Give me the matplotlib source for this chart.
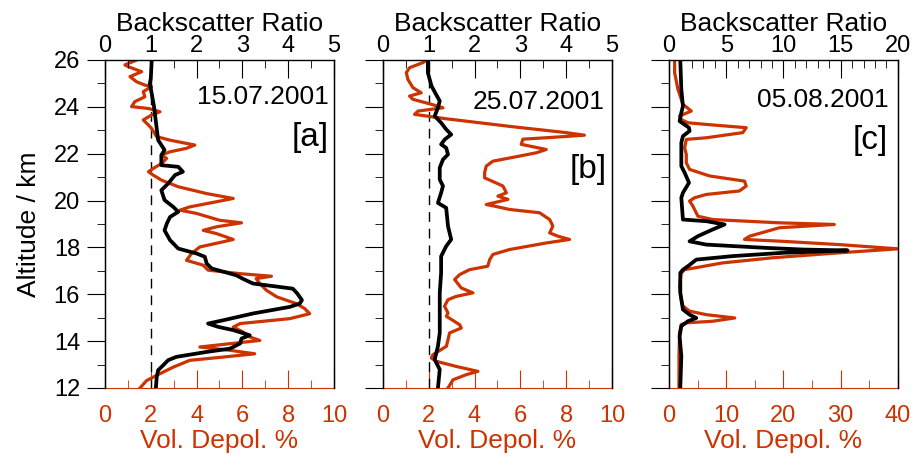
import matplotlib
matplotlib.use("Agg")
import matplotlib.pyplot as plt
from matplotlib.ticker import MultipleLocator
from matplotlib.transforms import blended_transform_factory

plt.rcParams["font.family"] = ["Liberation Sans", "DejaVu Sans"]

ORANGE = "#CC3300"

# ---- panel [a] 15.07.2001 ----
alt_a_bsr = [26.0, 25.22, 25.0, 24.01, 22.58, 22.16, 21.94, 21.51, 21.44, 21.23, 21.09, 20.73,
             20.44, 20.02, 19.73, 19.52, 19.30, 19.02, 18.73, 18.31, 17.95, 17.74, 17.60, 17.31,
             17.10, 16.81, 16.67, 16.46, 16.24, 16.03, 15.75, 15.60, 15.46, 15.18, 14.89, 14.75,
             14.61, 14.47, 14.25, 14.11, 13.90, 13.68, 13.54, 13.33, 13.19, 12.97, 12.76, 12.48, 12.0]
bsr_a = [1.02, 1.0, 0.98, 1.07, 1.16, 1.3, 1.23, 1.23, 1.6, 1.7, 1.53, 1.38,
         1.23, 1.3, 1.49, 1.6, 1.42, 1.35, 1.3, 1.42, 1.6, 2.0, 2.18, 2.22,
         2.33, 2.87, 3.0, 3.23, 4.1, 4.2, 4.3, 4.25, 4.03, 3.23, 2.58, 2.25,
         2.47, 2.8, 3.16, 2.98, 2.95, 2.73, 2.22, 1.56, 1.38, 1.27, 1.16, 1.13, 1.11]
alt_a_dep = [26.0, 25.79, 25.72, 25.50, 25.29, 25.07, 24.93, 24.86, 24.65, 24.43,
             24.22, 24.01, 23.93, 23.79, 23.65, 23.44, 23.22, 23.08, 22.73, 22.58,
             22.37, 22.23, 22.08, 21.94, 21.80, 21.58, 21.37, 21.23, 21.09, 20.87,
             20.59, 20.30, 20.09, 19.95, 19.73, 19.59, 19.45, 19.16, 19.05, 18.88,
             18.73, 18.59, 18.34, 18.24, 18.02, 17.74, 17.45, 17.24, 17.03, 16.88,
             16.77, 16.67, 16.46, 16.17, 15.89, 15.60, 15.39, 15.17, 14.96, 14.75,
             14.60, 14.39, 14.18, 14.03, 13.89, 13.75, 13.61, 13.46, 13.32, 13.18,
             12.89, 12.61, 12.32, 12.0]
dep_a = [1.38, 0.87, 1.0, 1.6, 1.09, 1.38, 1.74, 2.03, 1.67, 1.74,
         1.3, 1.16, 1.9, 2.4, 2.03, 1.67, 1.9, 2.03, 2.25, 2.83,
         3.92, 3.56, 2.83, 2.47, 2.69, 2.47, 2.1, 1.9, 2.1, 2.47,
         3.2, 4.43, 5.6, 4.87, 3.7, 3.27, 4.0, 5.0, 5.96, 4.87,
         4.29, 4.87, 5.6, 5.16, 4.14, 3.78, 3.56, 4.29, 4.5, 5.9,
         7.27, 6.6, 6.76, 7.05, 7.5, 8.36, 8.72, 8.94, 8.07, 5.9,
         5.6, 6.03, 6.32, 6.76, 5.45, 4.14, 5.45, 6.54, 5.16, 3.7,
         2.98, 2.4, 1.82, 1.53]

# ---- panel [b] 25.07.2001 ----
alt_b_bsr = [26.0, 25.46, 24.89, 24.53, 24.25, 23.96, 23.61, 23.32, 23.04, 22.82,
             22.61, 22.40, 22.25, 21.97, 21.75, 21.40, 20.90, 20.62, 20.33, 19.90,
             19.69, 18.91, 18.34, 18.05, 17.62, 16.91, 16.06, 15.21, 14.35, 13.78,
             13.21, 12.79, 12.0]
bsr_b = [0.98, 0.98, 1.06, 1.16, 1.24, 1.2, 1.13, 1.27, 1.38, 1.49,
         1.35, 1.27, 1.38, 1.42, 1.31, 1.24, 1.24, 1.31, 1.27, 1.2,
         1.38, 1.42, 1.49, 1.38, 1.27, 1.27, 1.24, 1.24, 1.24, 1.2,
         1.13, 1.24, 1.2]
alt_b_dep = [26.0, 25.89, 25.67, 25.46, 25.17, 24.82, 24.60, 24.46, 24.32, 24.11,
             23.96, 23.82, 23.68, 23.49, 23.15, 22.90, 22.79, 22.69, 22.62, 22.40,
             22.18, 22.04, 21.90, 21.68, 21.47, 21.19, 20.97, 20.62, 20.33, 20.19,
             20.05, 19.83, 19.76, 19.62, 19.48, 19.19, 18.91, 18.62, 18.48, 18.34,
             18.19, 17.91, 17.70, 17.48, 17.20, 17.05, 16.84, 16.63, 16.27, 16.06,
             15.91, 15.77, 15.49, 15.20, 15.06, 14.70, 14.56, 14.35, 14.06, 13.78,
             13.42, 13.28, 13.14, 12.92, 12.71, 12.57, 12.35, 12.0]
dep_b = [1.9, 1.75, 1.16, 1.02, 1.09, 1.31, 1.67, 1.16, 1.31, 2.11,
         2.62, 1.53, 1.38, 2.77, 5.68, 8.0, 8.8, 7.28, 6.11, 6.04,
         7.13, 6.7, 5.97, 4.8, 4.51, 4.44, 4.44, 5.24, 5.39, 5.02,
         5.46, 4.51, 4.88, 5.53, 6.84, 7.28, 7.42, 7.28, 7.64, 8.15,
         7.13, 5.53, 4.8, 4.66, 4.58, 3.78, 3.35, 3.13, 3.42, 3.93,
         3.2, 2.84, 2.69, 2.84, 2.77, 3.35, 3.42, 2.91, 2.84, 2.77,
         2.18, 2.11, 2.33, 3.2, 4.15, 3.64, 3.06, 2.84]

# ---- panel [c] 05.08.2001 ----
alt_c_bsr = [26.0, 24.75, 24.03, 23.75, 23.39, 23.11, 22.97, 22.75, 22.47, 21.47,
             21.19, 20.76, 20.33, 20.12, 19.19, 19.12, 18.98, 18.77, 18.48, 18.26,
             18.12, 17.98, 17.91, 17.87, 17.77, 17.63, 17.48, 17.20, 17.05, 16.91,
             16.06, 15.35, 15.13, 14.99, 14.85, 14.64, 14.21, 13.36, 12.0]
bsr_c = [0.99, 1.08, 1.22, 1.08, 0.93, 1.75, 1.8, 1.22, 1.08, 1.08,
         1.37, 1.75, 1.22, 1.08, 1.22, 3.26, 4.86, 3.84, 2.53, 1.8,
         3.26, 8.5, 11.7, 15.6, 9.96, 5.59, 2.39, 1.66, 1.22, 0.99,
         0.99, 1.22, 1.8, 2.39, 1.66, 1.08, 0.93, 1.08, 0.99]
alt_c_dep = [26.0, 25.46, 24.75, 24.11, 23.82, 23.61, 23.46, 23.32, 23.25, 23.11,
             22.90, 22.68, 22.61, 22.25, 21.97, 21.61, 21.33, 21.05, 20.83, 20.62,
             20.41, 20.26, 20.12, 19.98, 19.76, 19.33, 19.19, 19.05, 18.98, 18.84,
             18.48, 18.34, 18.26, 18.12, 17.94, 17.77, 17.56, 17.34, 17.05, 16.91,
             16.35, 15.78, 15.50, 15.28, 15.13, 14.99, 14.85, 14.78, 14.71, 14.36,
             13.36, 12.0]
dep_c = [0.99, 0.99, 1.57, 2.44, 3.9, 1.86, 2.15, 3.32, 6.5, 13.5,
         12.9, 6.5, 3.03, 2.74, 3.03, 3.03, 3.6, 7.1, 13.2, 13.5,
         12.3, 6.5, 4.48, 3.6, 4.19, 5.06, 7.68, 19.3, 28.9, 19.3,
         14.1, 13.2, 19.9, 29.8, 40.0, 29.8, 18.2, 9.4, 2.74, 2.15,
         1.86, 2.15, 2.44, 3.6, 6.5, 11.5, 7.68, 3.03, 2.15, 1.86,
         1.75, 1.75]

fig = plt.figure(figsize=(9.14, 4.59), dpi=100)


def make_panel(rect, alt_dep, dep, alt_bsr, bsr, dep_lim, dep_ticks, bsr_lim, bsr_ticks,
               date, tag, date_pos, tag_pos, first=False, dashed=True):
    ax = fig.add_axes(rect)
    top = ax.twiny()

    if dashed:
        trans = blended_transform_factory(top.transData, ax.transAxes)
        ax.plot([1, 1], [0, 1], transform=trans, color="k", lw=1.0, ls=(0, (7, 5)))
    ax.plot(dep, alt_dep, color=ORANGE, lw=2.3)
    top.plot(bsr, alt_bsr, color="k", lw=2.7)

    ax.set_xlim(0, dep_lim)
    ax.set_ylim(12, 26)
    top.set_xlim(0, bsr_lim)

    ax.xaxis.set_major_locator(MultipleLocator(dep_ticks[0]))
    ax.xaxis.set_minor_locator(MultipleLocator(dep_ticks[1]))
    top.xaxis.set_major_locator(MultipleLocator(bsr_ticks[0]))
    top.xaxis.set_minor_locator(MultipleLocator(bsr_ticks[1]))
    ax.yaxis.set_major_locator(MultipleLocator(2))
    ax.yaxis.set_minor_locator(MultipleLocator(1))

    ax.tick_params(axis="x", which="both", direction="in", color=ORANGE,
                   labelcolor=ORANGE, labelsize=17, pad=12, top=False)
    ax.tick_params(axis="x", which="major", length=13)
    ax.tick_params(axis="x", which="minor", length=6)
    ax.tick_params(axis="y", which="both", direction="out", labelsize=17, pad=5,
                   right=False, labelleft=first)
    ax.tick_params(axis="y", which="major", length=13)
    ax.tick_params(axis="y", which="minor", length=6)
    top.tick_params(axis="x", which="both", direction="in", labelsize=17, pad=2)
    top.tick_params(axis="x", which="major", length=13)
    top.tick_params(axis="x", which="minor", length=6)

    ax.spines["bottom"].set_color(ORANGE)
    ax.spines["top"].set_visible(False)
    top.spines["bottom"].set_visible(False)
    for s in ("top", "left", "right"):
        top.spines[s].set_linewidth(1.0)

    ax.set_xlabel("Vol. Depol. %", color=ORANGE, fontsize=19, labelpad=2)
    top.set_xlabel("Backscatter Ratio", fontsize=19, labelpad=3)
    if first:
        ax.set_ylabel("Altitude / km", fontsize=19, labelpad=9)

    top.text(date_pos[0], date_pos[1], date, transform=ax.transAxes,
             ha="right", va="center", fontsize=19)
    top.text(tag_pos[0], tag_pos[1], tag, transform=ax.transAxes,
             ha="right", va="center", fontsize=24)
    return ax, top


make_panel([0.1149, 0.1547, 0.2505, 0.7146], alt_a_dep, dep_a, alt_a_bsr, bsr_a,
           10, (2, 1), 5, (1, 0.5), "15.07.2001", "[a]", (0.975, 0.887), (0.975, 0.765),
           first=True)
make_panel([0.4190, 0.1547, 0.2505, 0.7146], alt_b_dep, dep_b, alt_b_bsr, bsr_b,
           10, (2, 1), 5, (1, 0.5), "25.07.2001", "[b]", (0.969, 0.872), (0.978, 0.665))
make_panel([0.7319, 0.1547, 0.2505, 0.7146], alt_c_dep, dep_c, alt_c_bsr, bsr_c,
           40, (10, 5), 20, (5, 1), "05.08.2001", "[c]", (0.961, 0.878), (0.956, 0.756),
           dashed=False)

fig.savefig("out.png", dpi=100)
